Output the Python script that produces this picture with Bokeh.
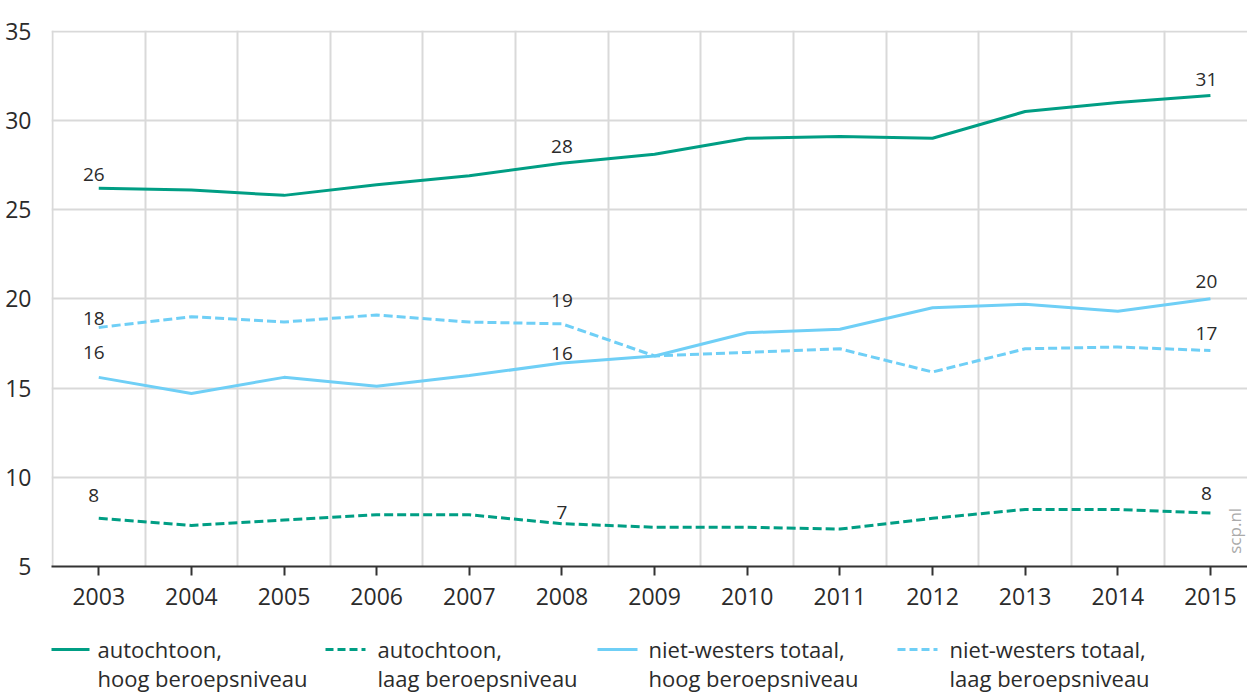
import math
from bokeh.plotting import figure
from bokeh.models import Range1d, FixedTicker, Label
from bokeh.layouts import column
from bokeh.core.properties import value
from bokeh.embed import file_html
from bokeh.resources import INLINE

# ---- data ----
years = [2003, 2004, 2005, 2006, 2007, 2008, 2009, 2010, 2011, 2012, 2013, 2014, 2015]
autochtoon_hoog = [26.2, 26.1, 25.8, 26.4, 26.9, 27.6, 28.1, 29.0, 29.1, 29.0, 30.5, 31.0, 31.4]
autochtoon_laag = [7.7, 7.3, 7.6, 7.9, 7.9, 7.4, 7.2, 7.2, 7.1, 7.7, 8.2, 8.2, 8.0]
nw_hoog = [15.6, 14.7, 15.6, 15.1, 15.7, 16.4, 16.8, 18.1, 18.3, 19.5, 19.7, 19.3, 20.0]
nw_laag = [18.4, 19.0, 18.7, 19.1, 18.7, 18.6, 16.8, 17.0, 17.2, 15.9, 17.2, 17.3, 17.1]
label_years = [2003, 2008, 2015]
series_names = [
    ("autochtoon,", "hoog beroepsniveau"),
    ("autochtoon,", "laag beroepsniveau"),
    ("niet-westers totaal,", "hoog beroepsniveau"),
    ("niet-westers totaal,", "laag beroepsniveau"),
]
y_ticks = [5, 10, 15, 20, 25, 30, 35]

GREEN = "#009e84"
BLUE = "#6fcff6"
GRID = "#d9d9d9"
TXT = "#2b2b2b"
FONT = "Open Sans"

p = figure(width=1247, height=628, output_backend="svg", toolbar_location=None,
           x_range=Range1d(2002.49, 2015.40), y_range=Range1d(5, 35.04),
           min_border_left=51, min_border_right=0, min_border_top=30, min_border_bottom=62)
p.outline_line_color = None
p.background_fill_color = "white"

p.xgrid.ticker = FixedTicker(ticks=[y + 0.5 for y in [years[0] - 1] + years])
p.ygrid.ticker = FixedTicker(ticks=y_ticks)
for g in (p.xgrid, p.ygrid):
    g.grid_line_color = GRID
    g.grid_line_width = 2

xa = p.xaxis[0]
xa.ticker = FixedTicker(ticks=years)
xa.major_label_overrides = {y: str(y) for y in years}
xa.axis_line_color = "#333333"
xa.axis_line_width = 2
xa.major_tick_line_color = "#333333"
xa.major_tick_line_width = 2
xa.major_tick_out = 9
xa.major_tick_in = 0
xa.minor_tick_line_color = None
xa.major_label_text_font = FONT
xa.major_label_text_font_size = "23px"
xa.major_label_text_color = TXT
xa.major_label_standoff = 12

ya = p.yaxis[0]
ya.ticker = FixedTicker(ticks=y_ticks)
ya.axis_line_color = None
ya.major_tick_line_color = None
ya.minor_tick_line_color = None
ya.major_label_text_font = FONT
ya.major_label_text_font_size = "23px"
ya.major_label_text_color = TXT
ya.major_label_standoff = 14

series = [
    (autochtoon_hoog, GREEN, "solid"),
    (autochtoon_laag, GREEN, "9 4"),
    (nw_hoog, BLUE, "solid"),
    (nw_laag, BLUE, "9 4"),
]
for vals, col, dash in series:
    p.line(years, vals, line_color=col, line_width=3, line_dash=dash)

# data labels (pixel offsets per series and label year)
label_offsets = [
    [-14, -17, -16],
    [-23, -11, -19],
    [-25, -10, -17],
    [-9, -23, -17],
]
x_offsets = [-5, 0, -4]
for (vals, col, dash), offs in zip(series, label_offsets):
    for yr, off, xo in zip(label_years, offs, x_offsets):
        v = vals[years.index(yr)]
        lab = Label(x=yr, y=v, text=str(int(round(v))), x_offset=xo, y_offset=-off,
                    text_align="center", text_baseline="middle",
                    text_font=FONT, text_font_size="19px", text_color=TXT)
        p.add_layout(lab)

p.add_layout(Label(x=2015.26, y=7.0, text="scp.nl", angle=math.pi / 2,
                   text_align="center", text_baseline="middle",
                   text_font=FONT, text_font_size="17px", text_color="#aaaaaa"))

# ---- legend figure (x in page pixels; frame aligned with the chart frame) ----
leg = figure(width=1247, height=65, output_backend="svg", toolbar_location=None,
             x_range=Range1d(51, 1247), y_range=Range1d(65, 0),
             min_border_left=51, min_border_right=0, min_border_top=0, min_border_bottom=0)
leg.axis.visible = False
leg.grid.visible = False
leg.outline_line_color = None

sample_x = [49, 325, 597, 897]
text_x = [97, 377, 648, 949]
for (vals, col, dash), sx, tx, (l1, l2) in zip(series, sample_x, text_x, series_names):
    leg.line([sx, sx + 40], [21, 21], line_color=col, line_width=3,
             line_dash="8 4" if dash != "solid" else "solid")
    leg.text(x=[tx, tx], y=[20, 49], text=[l1, l2], text_align="left",
             text_baseline="middle", text_font=value(FONT), text_font_size="22px",
             text_color=TXT)

layout = column(p, leg, spacing=0)
open("out.html", "w").write(file_html(layout, INLINE))
